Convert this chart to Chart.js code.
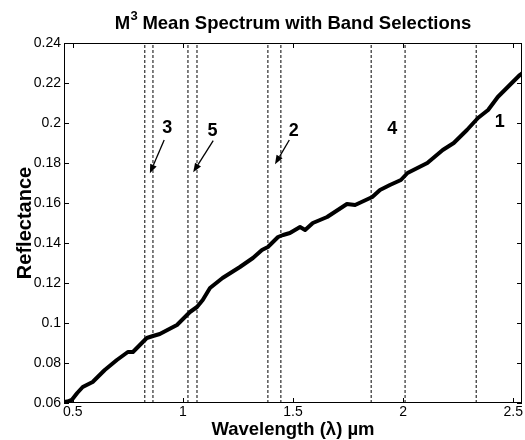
<!DOCTYPE html>
<html><head><meta charset="utf-8">
<script src="https://cdn.jsdelivr.net/npm/chart.js@4.4.1/dist/chart.umd.min.js"></script>
<style>html,body{margin:0;padding:0;background:#fff}</style>
</head><body>
<canvas id="c" width="525" height="440"></canvas>
<script>
const wavelength = [0.46,0.475,0.495,0.52,0.545,0.59,0.645,0.70,0.75,0.773,0.836,0.864,0.895,0.973,1.032,1.064,1.09,1.123,1.18,1.259,1.318,1.359,1.386,1.432,1.455,1.486,1.532,1.555,1.59,1.655,1.745,1.782,1.86,1.895,1.94,1.99,2.02,2.11,2.18,2.23,2.29,2.34,2.386,2.43,2.53,2.54];
const reflectance = [0.0605,0.0607,0.0615,0.065,0.068,0.0705,0.0765,0.0815,0.0855,0.0855,0.0925,0.0935,0.0945,0.099,0.1055,0.108,0.1115,0.1175,0.1225,0.128,0.1325,0.1365,0.138,0.143,0.144,0.145,0.148,0.1465,0.15,0.153,0.1595,0.159,0.163,0.1665,0.169,0.1715,0.175,0.18,0.1865,0.19,0.1965,0.2025,0.2065,0.213,0.224,0.2248];
const bandLines = [0.827,0.864,1.023,1.064,1.386,1.445,1.855,2.009,2.332];
const xTicks = [0.5,1,1.5,2,2.5];
const yTicks = [0.06,0.08,0.1,0.12,0.14,0.16,0.18,0.2,0.22,0.24];
const bandLabels = ['3','5','2','4','1'];
const bandLabelX = [0.9295,1.134,1.503,1.951,2.439];
const bandLabelY = [0.19485,0.1935,0.19365,0.1945,0.19815];
const arrowTailX = [0.915,1.1377,1.4832];
const arrowTailY = [0.1915,0.19115,0.1915];
const arrowTipX = [0.85,1.0468,1.4182];
const arrowTipY = [0.17485,0.17535,0.17935];

const FONT = '"Liberation Sans", Arial, Helvetica, sans-serif';
Chart.defaults.font.family = FONT;
Chart.defaults.font.size = 14;
Chart.defaults.color = '#000';

const datasets = [];
bandLines.forEach(b => datasets.push({
  data: [{x: b, y: yTicks[0]}, {x: b, y: yTicks[yTicks.length-1]}],
  borderColor: '#000', borderWidth: 1, borderDash: [3, 2], pointRadius: 0, fill: false
}));
datasets.push({
  data: wavelength.map((w, i) => ({x: w, y: reflectance[i]})),
  borderColor: '#000', borderWidth: 4, pointRadius: 0, tension: 0,
  borderJoinStyle: 'round', borderCapStyle: 'round', fill: false
});

const decor = {
  id: 'decor',
  afterDraw(chart) {
    const ctx = chart.ctx, a = chart.chartArea;
    const xs = chart.scales.x, ys = chart.scales.y;
    ctx.save();
    ctx.strokeStyle = '#000'; ctx.lineWidth = 1;
    ctx.strokeRect(Math.round(a.left) + 0.5, Math.round(a.top) + 0.5,
      Math.round(a.right - a.left) - 1, Math.round(a.bottom - a.top) - 1);
    const tl = 5;
    ctx.beginPath();
    xTicks.forEach(v => {
      const px = Math.round(xs.getPixelForValue(v)) + 0.5;
      ctx.moveTo(px, a.bottom); ctx.lineTo(px, a.bottom - tl);
      ctx.moveTo(px, a.top); ctx.lineTo(px, a.top + tl);
    });
    yTicks.forEach(v => {
      const py = Math.round(ys.getPixelForValue(v)) + 0.5;
      ctx.moveTo(a.left, py); ctx.lineTo(a.left + tl, py);
      ctx.moveTo(a.right, py); ctx.lineTo(a.right - tl, py);
    });
    ctx.stroke();

    // band labels
    ctx.fillStyle = '#000';
    ctx.font = 'bold 18px ' + FONT;
    ctx.textAlign = 'center'; ctx.textBaseline = 'alphabetic';
    bandLabels.forEach((t, i) => {
      ctx.fillText(t, xs.getPixelForValue(bandLabelX[i]), ys.getPixelForValue(bandLabelY[i]));
    });
    // arrows
    ctx.lineWidth = 1.3;
    arrowTailX.forEach((_, i) => {
      const x1 = xs.getPixelForValue(arrowTailX[i]), y1 = ys.getPixelForValue(arrowTailY[i]);
      const x2 = xs.getPixelForValue(arrowTipX[i]), y2 = ys.getPixelForValue(arrowTipY[i]);
      const ang = Math.atan2(y2 - y1, x2 - x1);
      const hl = 9, hw = 3.5;
      const bx = x2 - hl * Math.cos(ang), by = y2 - hl * Math.sin(ang);
      ctx.beginPath(); ctx.moveTo(x1, y1); ctx.lineTo(bx, by); ctx.stroke();
      ctx.beginPath();
      ctx.moveTo(x2, y2);
      ctx.lineTo(bx + hw * Math.sin(ang), by - hw * Math.cos(ang));
      ctx.lineTo(bx - hw * Math.sin(ang), by + hw * Math.cos(ang));
      ctx.closePath(); ctx.fill();
    });

    // title with superscript
    const cx = (a.left + a.right) / 2;
    ctx.textAlign = 'left';
    ctx.font = 'bold 18.5px ' + FONT;
    const wM = ctx.measureText('M').width;
    const rest = ' Mean Spectrum with Band Selections';
    const wR = ctx.measureText(rest).width;
    ctx.font = 'bold 13px ' + FONT;
    const w3 = ctx.measureText('3').width;
    const total = wM + w3 + wR;
    let x0 = cx - total / 2;
    ctx.font = 'bold 18.5px ' + FONT;
    ctx.fillText('M', x0, 28.5);
    ctx.font = 'bold 13px ' + FONT;
    ctx.fillText('3', x0 + wM + 0.5, 20);
    ctx.font = 'bold 18.5px ' + FONT;
    ctx.fillText(rest, x0 + wM + w3, 28.5);

    // axis titles
    ctx.textAlign = 'center';
    ctx.font = 'bold 18.5px ' + FONT;
    ctx.fillText('Wavelength (\u03BB) \u00B5m', cx, 435);
    ctx.save();
    ctx.translate(30.5, (a.top + a.bottom) / 2);
    ctx.rotate(-Math.PI / 2);
    ctx.font = 'bold 20px ' + FONT;
    ctx.fillText('Reflectance', 0, 0);
    ctx.restore();
    ctx.restore();
  }
};

new Chart(document.getElementById('c'), {
  type: 'line',
  data: { datasets },
  options: {
    responsive: false, animation: false, devicePixelRatio: 1,
    layout: { padding: { top: 43, right: 3, left: 0, bottom: 0 } },
    plugins: { legend: { display: false }, tooltip: { enabled: false }, title: { display: false } },
    scales: {
      x: {
        type: 'linear', min: 0.46, max: 2.54,
        afterBuildTicks: s => { s.ticks = xTicks.map(v => ({value: v})); },
        afterFit: s => { s.height = 37; },
        grid: { display: false, drawTicks: false }, border: { display: false },
        ticks: { padding: 1, maxRotation: 0, autoSkip: false, font: { size: 14 },
          callback: v => String(Number(v.toFixed(2))) }
      },
      y: {
        type: 'linear', min: 0.06, max: 0.24,
        afterBuildTicks: s => { s.ticks = yTicks.map(v => ({value: v})); },
        afterFit: s => { s.width = 64; },
        grid: { display: false, drawTicks: false }, border: { display: false },
        ticks: { padding: 3, autoSkip: false, font: { size: 14 },
          callback: v => String(Number(v.toFixed(2))) }
      }
    }
  },
  plugins: [decor]
});
</script>
</body></html>
